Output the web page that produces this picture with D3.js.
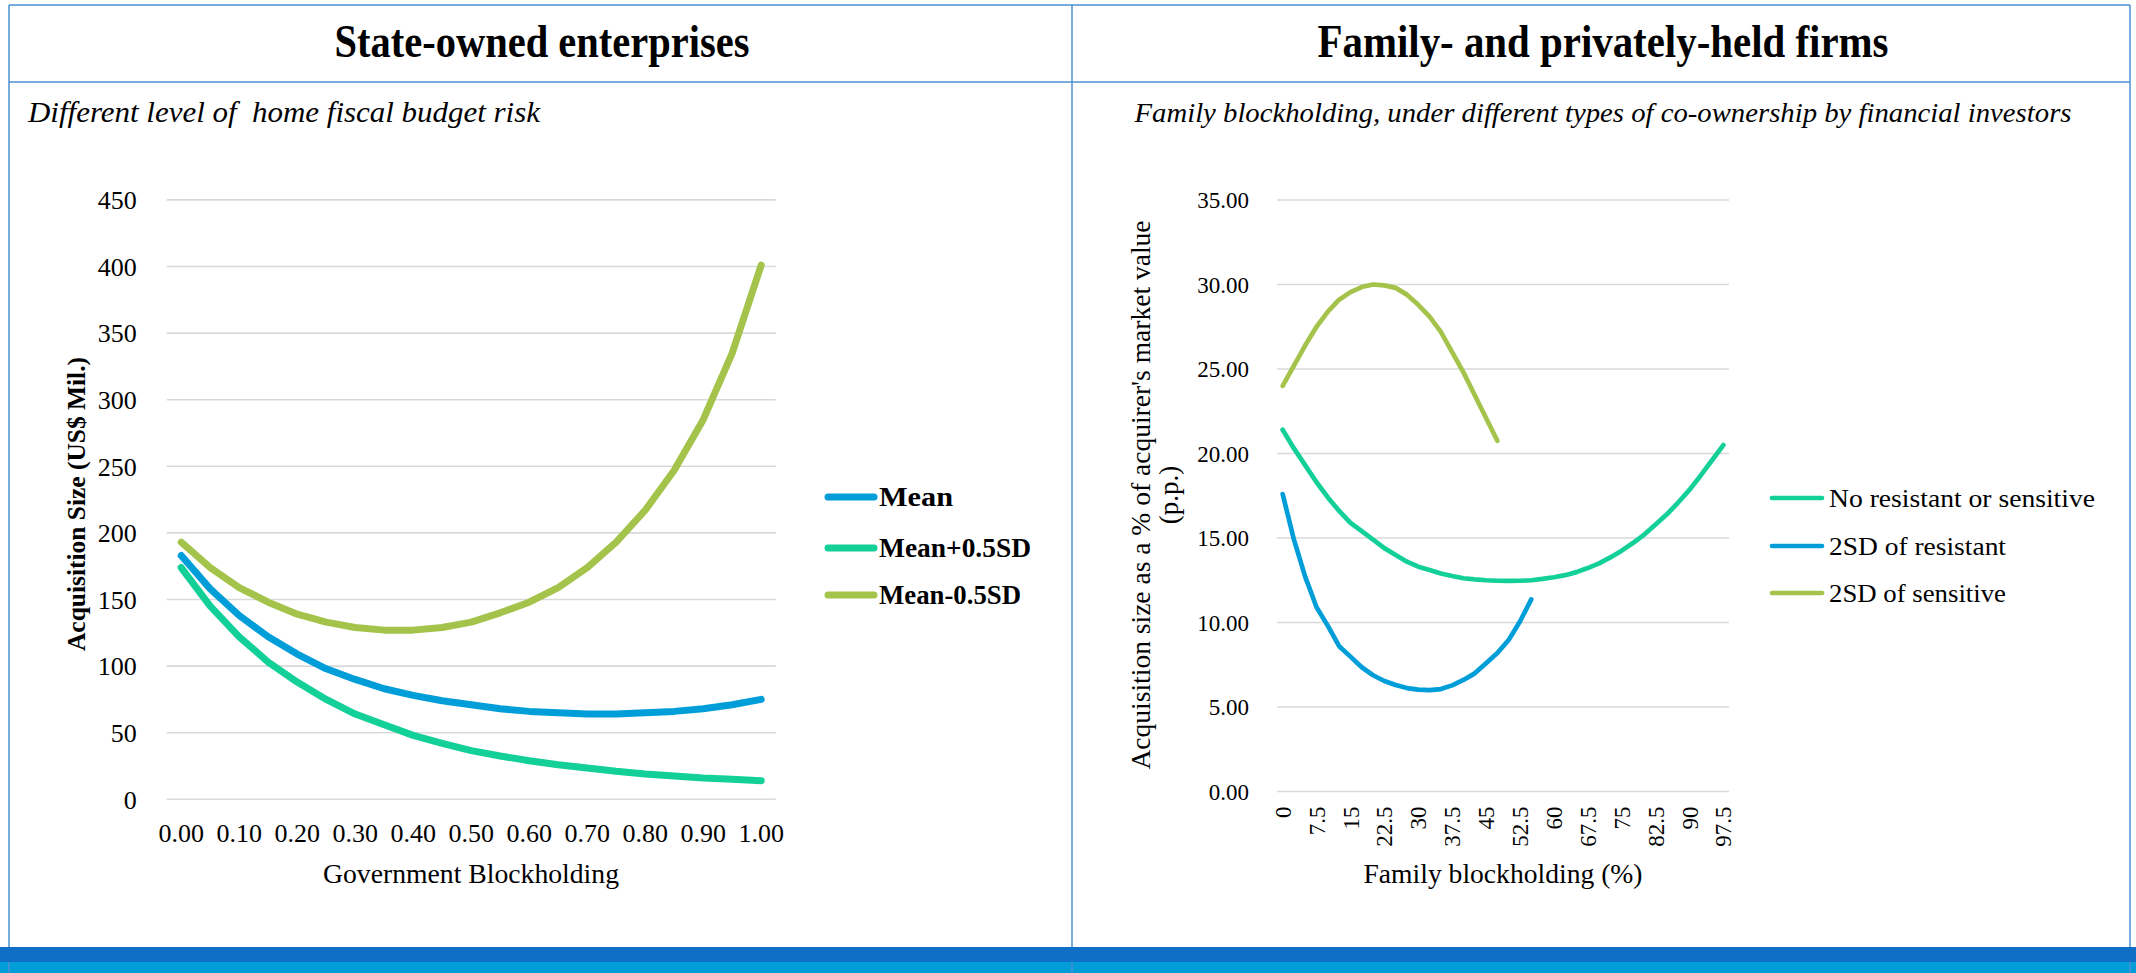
<!DOCTYPE html>
<html>
<head>
<meta charset="utf-8">
<script src="https://cdn.jsdelivr.net/npm/d3@7"></script>
<style>
  body { margin: 0; background: #ffffff; }
  svg { display: block; }
  text { font-family: "Liberation Serif", "DejaVu Serif", serif; fill: #000; white-space: pre; }
</style>
</head>
<body>
<svg id="chart" width="2136" height="973"></svg>
<script>
// ---------- State-owned enterprises: acquisition size by government blockholding ----------
const govLevels = ["0.00","0.05","0.10","0.15","0.20","0.25","0.30","0.35","0.40","0.45","0.50",
                   "0.55","0.60","0.65","0.70","0.75","0.80","0.85","0.90","0.95","1.00"];
const govTickLabels = ["0.00","0.10","0.20","0.30","0.40","0.50","0.60","0.70","0.80","0.90","1.00"];
const soeMean      = [183,158,138,122,109,98,90,83,78,74,71,68,66,65,64,64,65,66,68,71,75];
const soeMeanPlus  = [174,145,122,103,88,75,64,56,48,42,36.5,32.5,29,26,23.5,21,19,17.5,16,15,14];
const soeMeanMinus = [193,174,159,148,139,133,129,127,127,129,133,140,148,159,174,193,217,247,285,335,401];
const soeSeriesNames = ["Mean","Mean+0.5SD","Mean-0.5SD"];
const soeYTicks = [0,50,100,150,200,250,300,350,400,450];

// ---------- Family- and privately-held firms: acquisition size by family blockholding ----------
const famLevels = ["0","2.5","5","7.5","10","12.5","15","17.5","20","22.5","25","27.5","30","32.5",
                   "35","37.5","40","42.5","45","47.5","50","52.5","55","57.5","60","62.5","65","67.5",
                   "70","72.5","75","77.5","80","82.5","85","87.5","90","92.5","95","97.5"];
const famTickLabels = ["0","7.5","15","22.5","30","37.5","45","52.5","60","67.5","75","82.5","90","97.5"];
const famNoResistant = [21.4,20.3,19.3,18.3,17.4,16.6,15.9,15.4,14.9,14.4,14.0,13.6,13.3,13.1,
                        12.9,12.75,12.62,12.55,12.5,12.47,12.46,12.47,12.5,12.58,12.68,12.8,12.98,
                        13.22,13.5,13.85,14.25,14.7,15.2,15.8,16.4,17.1,17.85,18.7,19.6,20.5];
const famResistant   = [17.6,14.9,12.7,10.9,9.8,8.6,7.98,7.35,6.88,6.54,6.3,6.12,6.03,6.0,
                        6.06,6.28,6.6,6.99,7.59,8.19,8.97,10.06,11.37];
const famSensitive   = [24.0,25.2,26.4,27.5,28.4,29.1,29.55,29.85,30.0,29.95,29.8,29.4,28.8,
                        28.1,27.2,26.0,24.8,23.45,22.1,20.75];
const famSeriesNames = ["No resistant or sensitive","2SD of resistant","2SD of sensitive"];
const famYTicks = [0,5,10,15,20,25,30,35];

const colBlue = "#009ed9", colTeal = "#13cf98", colGreen = "#a4c34a";
const frameColor = "#4b8fd3";

const svg = d3.select("#chart");

// ---------- frame: header row, panels and bottom bands ----------
const frame = svg.append("g");
frame.append("rect").attr("x", 0).attr("y", 962).attr("width", 2136).attr("height", 11).attr("fill", "#009dd9");
[[9, 5, 9, 973], [1072, 5, 1072, 973], [2130, 5, 2130, 973], [9, 5, 2130, 5], [9, 82, 2130, 82]]
  .forEach(([x1, y1, x2, y2]) => frame.append("line")
    .attr("x1", x1).attr("y1", y1).attr("x2", x2).attr("y2", y2)
    .attr("stroke", frameColor).attr("stroke-width", 1.5));
frame.append("rect").attr("x", 0).attr("y", 947).attr("width", 2136).attr("height", 15).attr("fill", "#0f6fc6");

// text helper
function label(g, txt, x, y, opts) {
  const t = g.append("text").attr("x", x).attr("y", y).text(txt)
    .attr("font-size", opts.size)
    .attr("text-anchor", opts.anchor || "middle");
  if (opts.weight) t.attr("font-weight", opts.weight);
  if (opts.style) t.attr("font-style", opts.style);
  if (opts.len) t.attr("textLength", opts.len).attr("lengthAdjust", "spacingAndGlyphs");
  if (opts.rotate) t.attr("transform", `rotate(-90,${x},${y})`);
  if (opts.dy) t.attr("dy", opts.dy);
  return t;
}
label(svg, "State-owned enterprises", 542, 57, {size: 46, weight: "bold", len: 415});
label(svg, "Family- and privately-held firms", 1603, 57, {size: 46, weight: "bold", len: 571});
label(svg, "Different level of  home fiscal budget risk", 28, 122, {size: 29, style: "italic", anchor: "start", len: 512});
label(svg, "Family blockholding, under different types of co-ownership by financial investors", 1603, 122,
      {size: 27, style: "italic", len: 937});

// ---------- left chart ----------
const xL = d3.scaleBand().domain(govLevels).range([166.7, 775.7]);
const yL = d3.scaleLinear().domain([0, 450]).range([799.3, 199.9]);
const cxL = d => xL(d) + xL.bandwidth() / 2;

const gL = svg.append("g");
gL.append("g").selectAll("line").data(soeYTicks).join("line")
  .attr("x1", 166.7).attr("x2", 775.7)
  .attr("y1", d => yL(d)).attr("y2", d => yL(d))
  .attr("stroke", "#d9d9d9").attr("stroke-width", 1.6);

const yAxisL = gL.append("g").attr("transform", "translate(166.7,0)")
  .call(d3.axisLeft(yL).tickValues(soeYTicks).tickSize(0).tickPadding(30));
yAxisL.select(".domain").remove();
yAxisL.selectAll("text").attr("font-size", 26).attr("font-family", "Liberation Serif").attr("dy", "0.34em");

const xAxisL = gL.append("g").attr("transform", "translate(0,799.3)")
  .call(d3.axisBottom(xL).tickValues(govTickLabels).tickSize(0).tickPadding(24));
xAxisL.select(".domain").remove();
xAxisL.selectAll("text").attr("font-size", 26).attr("font-family", "Liberation Serif");

const lineL = d3.line().x((d, i) => cxL(govLevels[i])).y(d => yL(d));
[[soeMean, colBlue], [soeMeanPlus, colTeal], [soeMeanMinus, colGreen]].forEach(([s, c]) => {
  gL.append("path").attr("d", lineL(s)).attr("fill", "none").attr("stroke", c)
    .attr("stroke-width", 7).attr("stroke-linecap", "round").attr("stroke-linejoin", "round");
});

label(gL, "Acquisition Size (US$ Mil.)", 76, 504, {size: 26, weight: "bold", rotate: true, len: 294, dy: "0.35em"});
label(gL, "Government Blockholding", 471, 883, {size: 28, len: 296});

// legend
const legL = gL.append("g");
[[soeSeriesNames[0], colBlue, 497], [soeSeriesNames[1], colTeal, 548], [soeSeriesNames[2], colGreen, 595]]
  .forEach(([n, c, y], i) => {
    legL.append("line").attr("x1", 828).attr("x2", 874).attr("y1", y).attr("y2", y)
      .attr("stroke", c).attr("stroke-width", 7).attr("stroke-linecap", "round");
    label(legL, n, 879, y, {size: 27, weight: "bold", anchor: "start", dy: "0.35em", len: [74, 152, 142][i]});
  });

// ---------- right chart ----------
const xR = d3.scaleBand().domain(famLevels).range([1277, 1729]);
const yR = d3.scaleLinear().domain([0, 35]).range([791.5, 200]);
const cxR = d => xR(d) + xR.bandwidth() / 2;

const gR = svg.append("g");
gR.append("g").selectAll("line").data(famYTicks).join("line")
  .attr("x1", 1277).attr("x2", 1729)
  .attr("y1", d => yR(d)).attr("y2", d => yR(d))
  .attr("stroke", "#d9d9d9").attr("stroke-width", 1.6);

const yAxisR = gR.append("g").attr("transform", "translate(1277,0)")
  .call(d3.axisLeft(yR).tickValues(famYTicks).tickFormat(d3.format(".2f")).tickSize(0).tickPadding(28));
yAxisR.select(".domain").remove();
yAxisR.selectAll("text").attr("font-size", 23).attr("font-family", "Liberation Serif").attr("dy", "0.34em");

const xAxisR = gR.append("g").attr("transform", "translate(0,791.5)")
  .call(d3.axisBottom(xR).tickValues(famTickLabels).tickSize(0));
xAxisR.select(".domain").remove();
xAxisR.selectAll("text").attr("font-size", 23).attr("font-family", "Liberation Serif")
  .attr("transform", "rotate(-90)").attr("text-anchor", "end")
  .attr("x", -15).attr("y", 0).attr("dy", "0.35em");

const lineR = d3.line().x((d, i) => cxR(famLevels[i])).y(d => yR(d));
[[famNoResistant, colTeal], [famResistant, colBlue], [famSensitive, colGreen]].forEach(([s, c]) => {
  gR.append("path").attr("d", lineR(s)).attr("fill", "none").attr("stroke", c)
    .attr("stroke-width", 4.7).attr("stroke-linecap", "round").attr("stroke-linejoin", "round");
});

label(gR, "Acquisition size as a % of acquirer's market value", 1141, 495, {size: 27, rotate: true, len: 549, dy: "0.35em"});
label(gR, "(p.p.)", 1169, 495, {size: 27, rotate: true, dy: "0.35em"});
label(gR, "Family blockholding (%)", 1503, 883, {size: 28, len: 279});

const legR = gR.append("g");
[[famSeriesNames[0], colTeal, 498], [famSeriesNames[1], colBlue, 546], [famSeriesNames[2], colGreen, 593]]
  .forEach(([n, c, y], i) => {
    legR.append("line").attr("x1", 1772).attr("x2", 1822).attr("y1", y).attr("y2", y)
      .attr("stroke", c).attr("stroke-width", 4.7).attr("stroke-linecap", "round");
    label(legR, n, 1829, y, {size: 26, anchor: "start", dy: "0.35em", len: [266, 177, 177][i]});
  });
</script>
</body>
</html>
